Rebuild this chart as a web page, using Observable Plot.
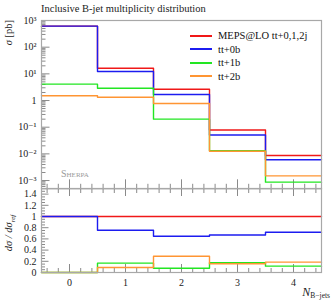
<!DOCTYPE html>
<html>
<head>
<meta charset="utf-8">
<script src="https://cdn.jsdelivr.net/npm/d3@7"></script>
<script src="https://cdn.jsdelivr.net/npm/@observablehq/plot@0.6"></script>
<style>
  html, body { margin: 0; padding: 0; background: #fff; }
  #wrap { position: relative; width: 332px; height: 300px; overflow: hidden; font-family: "Liberation Serif", "DejaVu Serif", serif !important; }
  #wrap svg, #wrap svg text { font-family: "Liberation Serif", "DejaVu Serif", serif !important; }
  #wrap svg { position: absolute; left: 0; overflow: visible; }
  #legend { position: absolute; left: 190px; top: 29px; font-size: 10.5px; color: #111; }
  .row { height: 13.5px; display: flex; align-items: center; white-space: nowrap; }
  .sw { display: inline-block; width: 22px; height: 1.6px; margin-right: 6px; }
</style>
</head>
<body>
<div id="wrap"></div>
<script>
// ---- data ----
const nBjets = [0, 1, 2, 3, 4];
const binEdges = [-0.5, 0.5, 1.5, 2.5, 3.5, 4.5];
const seriesNames = ["MEPS@LO tt+0,1,2j", "tt+0b", "tt+1b", "tt+2b"];
const seriesColors = ["#f01818", "#1c1cf0", "#22e622", "#ff9533"];
// sigma [pb] per bin
const sigmaAll = [614, 16.3, 2.65, 0.078, 0.0087];
const sigma0b  = [614, 12.2, 1.68, 0.051, 0.0060];
const sigma1b  = [4.1, 2.9, 0.20, 0.0132, 0.00087];
const sigma2b  = [1.5, 1.33, 0.77, 0.0125, 0.0015];
// ratio to reference per bin
const ratioAll = [1, 1, 1, 1, 1];
const ratio0b  = [1, 0.754, 0.646, 0.67, 0.72];
const ratio1b  = [0, 0.167, 0.077, 0.174, 0.113];
const ratio2b  = [0, 0.09, 0.29, 0.156, 0.185];
// tick labels
const xTicks = [0, 1, 2, 3, 4];
const xLabels = ["0", "1", "2", "3", "4"];
const yLogTicks = [1e3, 1e2, 1e1, 1, 1e-1, 1e-2, 1e-3];
const yLogLabels = ["10³", "10²", "10¹", "1", "10⁻¹", "10⁻²", "10⁻³"];
const ratioTicks = [0, 0.2, 0.4, 0.6, 0.8, 1, 1.2, 1.4];
const ratioLabels = ["0", "0.2", "0.4", "0.6", "0.8", "1", "1.2", "1.4"];

// ---- build step tables ----
function steps(values, name) {
  return binEdges.map((e, i) => ({x: e, y: values[Math.min(i, values.length - 1)], s: name}));
}
const mainRows = [sigmaAll, sigma0b, sigma1b, sigma2b].flatMap((v, i) => steps(v, seriesNames[i]));
const ratioRows = [ratioAll, ratio0b, ratio1b, ratio2b].flatMap((v, i) => steps(v, seriesNames[i]));

const FONT = '"Liberation Serif", "DejaVu Serif", serif';
const tickCol = "#8a8a8a";
const frameCol = "#a8a8a8";
const xMinor = d3.range(-0.4, 4.5, 0.2).map(v => Math.round(v * 10) / 10).filter(v => !Number.isInteger(v));
const yLogMinor = [];
for (let k = -4; k < 3; k++) for (let m = 2; m <= 9; m++) { const v = m * Math.pow(10, k); if (v > 4.9e-4 && v < 1000) yLogMinor.push(v); }
const rMinor = d3.range(0, 1.5, 0.05).map(v => Math.round(v * 100) / 100).filter(v => Math.round(v * 100) % 20 !== 0);

const colorScale = {domain: seriesNames, range: seriesColors};
const W = 332;
const plotStyle = `font-family: ${FONT}; font-size: 10px; color: #222; background: transparent;`;

const main = Plot.plot({
  width: W, height: 190,
  marginLeft: 41, marginRight: 11, marginTop: 20, marginBottom: 1.7,
  style: plotStyle,
  x: {domain: [-0.5, 4.5], axis: null},
  y: {type: "log", domain: [Math.pow(10, -3.31), 1000], axis: null},
  color: colorScale,
  marks: [
    Plot.axisY({ticks: yLogMinor, tickSize: -4.5, fill: "none", stroke: tickCol, label: null}),
    Plot.axisY({ticks: yLogTicks, tickSize: -8.5, fill: "none", stroke: tickCol, label: null}),
    Plot.axisY({ticks: yLogTicks, tickSize: 0, tickPadding: 5, tickFormat: d => yLogLabels[yLogTicks.indexOf(d)], label: null}),
    Plot.axisX({anchor: "bottom", ticks: xMinor, tickSize: -4.5, fill: "none", stroke: tickCol, label: null}),
    Plot.axisX({anchor: "bottom", ticks: xTicks, tickSize: -9, fill: "none", stroke: tickCol, label: null}),
    Plot.line(mainRows, {x: "x", y: "y", z: "s", stroke: "s", curve: "step-after", strokeWidth: 1.4}),
    Plot.frame({stroke: frameCol, strokeWidth: 1.2})
  ]
});

const ratio = Plot.plot({
  width: W, height: 114,
  marginLeft: 41, marginRight: 11, marginTop: 2, marginBottom: 28,
  style: plotStyle,
  x: {domain: [-0.5, 4.5], axis: null},
  y: {domain: [0, 1.5], axis: null},
  color: colorScale,
  marks: [
    Plot.axisY({ticks: rMinor, tickSize: -4, fill: "none", stroke: tickCol, label: null}),
    Plot.axisY({ticks: ratioTicks, tickSize: -7.5, fill: "none", stroke: tickCol, label: null}),
    Plot.axisY({ticks: ratioTicks, tickSize: 0, tickPadding: 5, tickFormat: d => ratioLabels[ratioTicks.indexOf(d)], label: null}),
    Plot.axisX({anchor: "bottom", ticks: xMinor, tickSize: -4, fill: "none", stroke: tickCol, label: null}),
    Plot.axisX({anchor: "bottom", ticks: xTicks, tickSize: -8, fill: "none", stroke: tickCol, label: null}),
    Plot.axisX({anchor: "top", ticks: xMinor, tickSize: -4, fill: "none", stroke: tickCol, label: null}),
    Plot.axisX({anchor: "top", ticks: xTicks, tickSize: -7, fill: "none", stroke: tickCol, label: null}),
    Plot.axisX({anchor: "bottom", ticks: xTicks, tickSize: 0, tickPadding: 6, tickFormat: d => xLabels[xTicks.indexOf(d)], label: null}),
    Plot.line(ratioRows, {x: "x", y: "y", z: "s", stroke: "s", curve: "step-after", strokeWidth: 1.4}),
    Plot.frame({stroke: frameCol, strokeWidth: 1.2})
  ]
});

const wrap = document.getElementById("wrap");
main.style.top = "0px";
ratio.style.top = "186px";
wrap.appendChild(main);
wrap.appendChild(ratio);

// texts in main svg
const sm = d3.select(main);
sm.append("text").attr("x", 41).attr("y", 12).attr("text-anchor", "start").attr("font-size", 10.5).attr("fill", "#222")
  .text("Inclusive B-jet multiplicity distribution");
sm.append("text").attr("transform", "translate(12,20) rotate(-90)").attr("text-anchor", "end")
  .attr("font-size", 10.5).attr("fill", "#222").attr("font-style", "italic")
  .html('σ <tspan font-style="normal">[pb]</tspan>');
sm.append("text").attr("x", 61).attr("y", 177).attr("text-anchor", "start").attr("font-size", 10).attr("fill", "#9a9a9a")
  .style("font-variant", "small-caps").text("Sherpa");

// texts in ratio svg
const sr = d3.select(ratio);
sr.append("text").attr("transform", "translate(12,47) rotate(-90)").attr("text-anchor", "middle")
  .attr("font-size", 10.5).attr("fill", "#222").attr("font-style", "italic")
  .html('dσ / dσ<tspan font-size="7" dy="2.5">ref</tspan>');
sr.append("text").attr("x", 330).attr("y", 110).attr("text-anchor", "end").attr("fill", "#222")
  .attr("font-size", 12).attr("font-style", "italic")
  .html('N<tspan font-size="7.5" font-style="normal" dy="2">B−jets</tspan>');

// legend
const leg = document.createElement("div");
leg.id = "legend";
seriesNames.forEach((n, i) => {
  const r = document.createElement("div"); r.className = "row";
  const s = document.createElement("span"); s.className = "sw"; s.style.background = seriesColors[i];
  r.appendChild(s); r.appendChild(document.createTextNode(n)); leg.appendChild(r);
});
wrap.appendChild(leg);
</script>
</body>
</html>
